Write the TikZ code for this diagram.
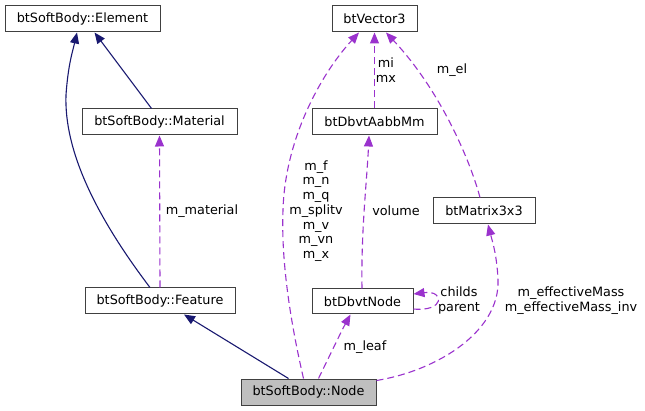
\documentclass[tikz,border=0pt]{standalone}
\usepackage{fontspec}
\setmainfont{DejaVu Sans}
\usetikzlibrary{arrows.meta}
\definecolor{navyc}{HTML}{191970}
\definecolor{orchidc}{HTML}{9A32CD}
\definecolor{bordc}{HTML}{404040}
\begin{document}
\begin{tikzpicture}[x=1pt,y=-1pt,
  box/.style={draw=bordc, line width=1pt, inner sep=0pt, minimum height=26pt, font=\fontsize{12.8}{14.7}\selectfont, fill=white},
  inh/.style={navyc, line width=1.1pt, -{Triangle[length=11pt,width=9pt]}},
  use/.style={orchidc, line width=1.1pt, dash pattern=on 7pt off 4pt, -{Triangle[length=11pt,width=9pt]}},
  lbl/.style={font=\fontsize{12.8}{14.7}\selectfont, align=center, inner sep=0pt}]
\useasboundingbox (0,0) rectangle (645,411);

\node[box, minimum width=155pt] (elem) at (82.5,19) {btSoftBody::Element};
\node[box, minimum width=155pt] (mat) at (159.5,122) {btSoftBody::Material};
\node[box, minimum width=85pt] (vec) at (374.5,19) {btVector3};
\node[box, minimum width=125pt] (aabb) at (374.5,122) {btDbvtAabbMm};
\node[box, minimum width=150pt] (feat) at (160,301) {btSoftBody::Feature};
\node[box, minimum width=101pt, minimum height=25pt] (dbvt) at (362.5,301.5) {btDbvtNode};
\node[box, minimum width=135pt, fill={rgb,255:red,191;green,191;blue,191}] (node) at (308.5,392) {btSoftBody::Node};
\node[box, minimum width=102pt] (mtx) at (484,211) {btMatrix3x3};

% inheritance
\draw[inh] ([xshift=-10pt]feat.north) .. controls (95,215) and (64,150) .. (66,95) .. controls (68,65) and (73,50) .. ([xshift=-5.5pt]elem.south);
\draw[inh] ([xshift=-8pt]mat.north) -- ([xshift=12pt]elem.south);
\draw[inh] ([xshift=-20pt]node.north) -- ([xshift=24pt]feat.south);

% usage
\draw[use] (feat.north) -- (mat.south);
\draw[use] ([xshift=-5pt]node.north) .. controls (290,320) and (281,260) .. (283,210) .. controls (285,140) and (320,75) .. ([xshift=-15.5pt]vec.south);
\draw[use] (aabb.north) -- (vec.south);
\draw[use] ([xshift=-0.5pt]dbvt.north) .. controls (361,230) and (367,180) .. ([xshift=-5.5pt]aabb.south);
\draw[use] ([xshift=-4pt]mtx.north) .. controls (470,160) and (440,90) .. ([xshift=11.5pt]vec.south);
\draw[use] ([yshift=-7.5pt]dbvt.east) .. controls (445,312) and (445,290) .. ([yshift=7.5pt]dbvt.east);
\draw[use] ([xshift=10pt]node.north) .. controls (330,355) and (342,330) .. ([xshift=-12pt]dbvt.south);
\draw[use] ([yshift=-2pt]node.north east) .. controls (440,370) and (500,330) .. (498,280) .. controls (497,255) and (492,240) .. ([xshift=4pt]mtx.south);

% labels
\node[lbl] (lmat) at (202,211) {m\_material};
\node[lbl] (lmimx) at (386,70) {mi\\mx};
\node[lbl] (lel) at (452,70) {m\_el};
\node[lbl] (lvec) at (316,211) {m\_f\\m\_n\\m\_q\\m\_splitv\\m\_v\\m\_vn\\m\_x};
\node[lbl] (lvol) at (396,211) {volume};
\node[lbl] (lch) at (459,300.5) {childs\\parent};
\node[lbl] (leff) at (571,300.5) {m\_effectiveMass\\m\_effectiveMass\_inv};
\node[lbl] (lleaf) at (365,347) {m\_leaf};
\end{tikzpicture}
\end{document}
